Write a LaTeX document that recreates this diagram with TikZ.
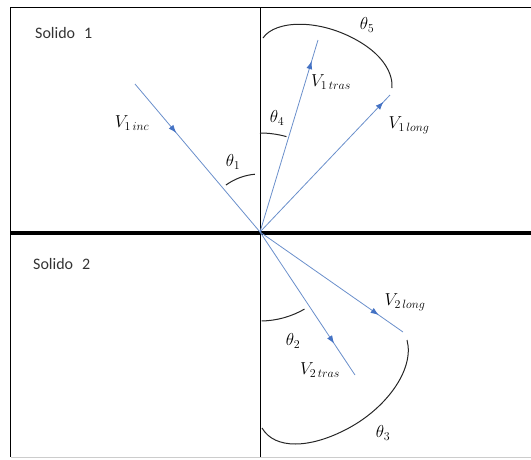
\documentclass[tikz,border=0pt]{standalone}
\usepackage{fontspec}
\newfontfamily\solfont{Carlito}
\usetikzlibrary{arrows.meta,decorations.markings}
\definecolor{vline}{HTML}{6A8FCB}
\definecolor{vhead}{HTML}{4472C4}
\tikzset{
  frame/.style={draw=black, line width=0.9pt},
  vec/.style={draw=vline, line width=0.8pt},
  midarrow/.style={postaction={decorate}, decoration={markings,
     mark=at position #1 with {\arrow[vhead]{Latex[length=8pt,width=6pt]}}}},
  anglearc/.style={draw=black!85, line width=1pt},
  lbl/.style={inner sep=0pt, font=\fontsize{17}{20}\selectfont},
  sol/.style={inner sep=0pt, text=black!80, font=\solfont\fontsize{16}{19}\selectfont}
}
\begin{document}
\begin{tikzpicture}[x=1pt,y=-1pt]
\useasboundingbox (0,0) rectangle (531,459);
% frame
\draw[frame] (531,7) -- (10.5,7) -- (10.5,457);
\draw[draw=black!20, line width=0.6pt] (10.5,457) -- (531,457);
\coordinate (O) at (260,232);
\draw[frame] (260,7) -- (260,457);
\draw[draw=black, line width=4pt] (10.5,232.5) -- (531,232.5);
% end points
\coordinate (Ainc) at (135,84);
\coordinate (Atras1) at (318,40);
\coordinate (Along1) at (390,95);
\coordinate (Along2) at (403,332);
\coordinate (Atras2) at (355,375);
% vectors
\draw[vec, midarrow=0.33] (Ainc) -- (O);
\draw[vec, midarrow=0.89] (O) -- (Atras1);
\draw[vec, midarrow=0.95] (O) -- (Along1);
\draw[vec, midarrow=0.83] (O) -- (Along2);
\draw[vec, midarrow=0.78] (O) -- (Atras2);
% angle arcs (y axis flipped: angles negated)
\draw[anglearc] (O) ++(-126:58) arc[start angle=-126, end angle=-95, radius=58];
\draw[anglearc] (O) ++(-90:99) arc[start angle=-90, end angle=-74.5, radius=99];
\draw[anglearc] (O) ++(89:89) arc[start angle=89, end angle=60, radius=89];
\draw[anglearc] (263,38) .. controls (275,20) and (320,18) .. (360,42) .. controls (385,57) and (393,75) .. (392,88);
\draw[anglearc] (262,428) .. controls (275,450) and (310,448) .. (345,430) .. controls (385,410) and (415,370) .. (407,340);
% labels
\node[sol, anchor=west] (s1) at (35,33) {Solido\hspace{9pt}1};
\node[sol, anchor=west] (s2) at (33,264) {Solido\hspace{9pt}2};
\node[lbl] (t1) at (233,162) {$\theta_1$};
\node[lbl] (t4) at (277,118) {$\theta_4$};
\node[lbl] (t5) at (367,25) {$\theta_5$};
\node[lbl] (t2) at (293,341) {$\theta_2$};
\node[lbl] (t3) at (383,433) {$\theta_3$};
\node[lbl] (l1) at (132,123) {$V_{1\,inc}$};
\node[lbl] (l2) at (331,82) {$V_{1\,tras}$};
\node[lbl] (l3) at (409,125) {$V_{1\,long}$};
\node[lbl] (l4) at (405,302) {$V_{2\,long}$};
\node[lbl] (l5) at (320,370) {$V_{2\,tras}$};
\end{tikzpicture}
\end{document}
